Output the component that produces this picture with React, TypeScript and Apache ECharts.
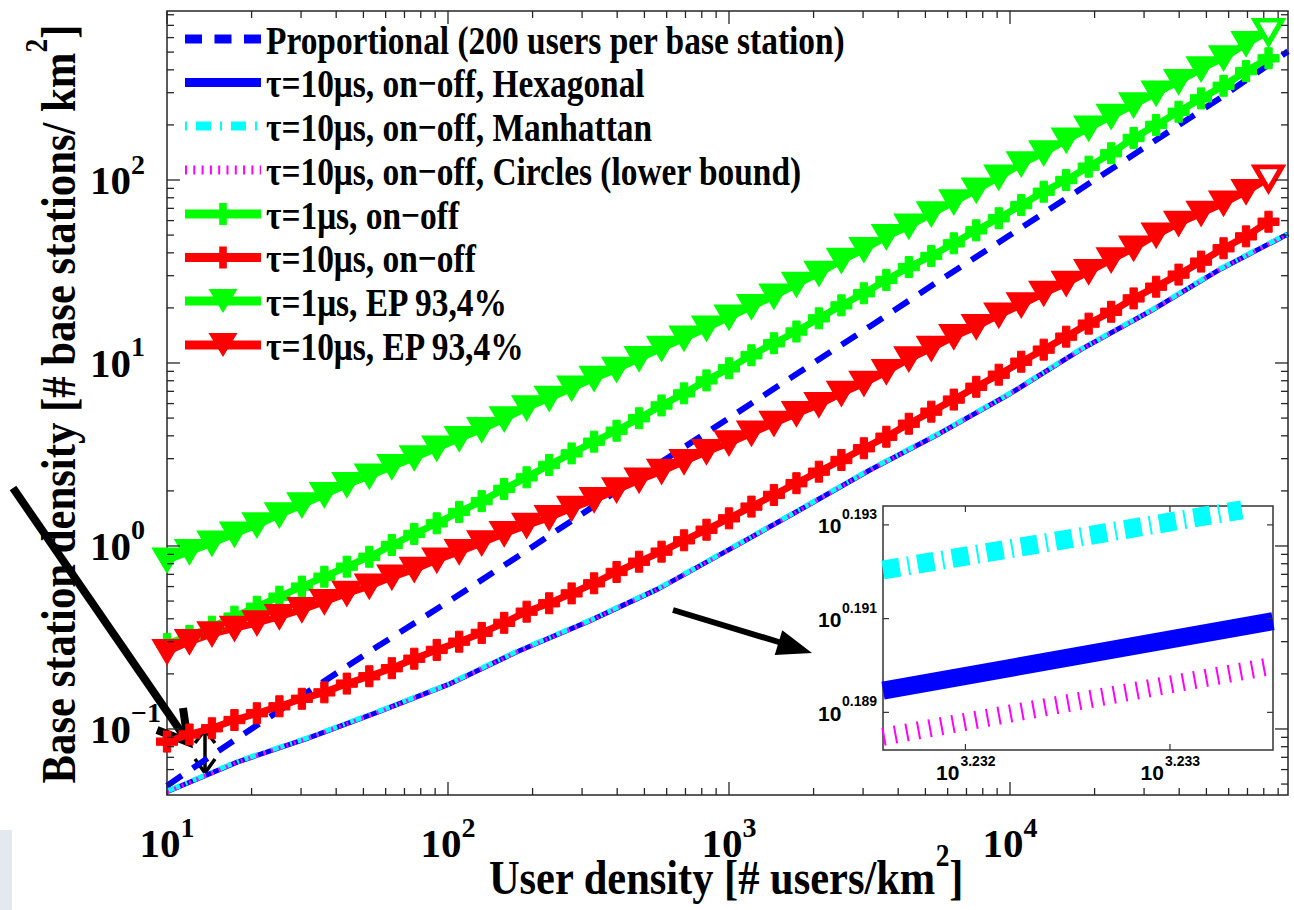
import React, { useEffect, useRef } from 'react';
import * as echarts from 'echarts';

// ---------- data ----------
// user densities (users/km^2) at which the marker curves are sampled
const USER_DENSITY = [10, 12.02, 14.45, 17.38, 20.89, 25.12, 30.2, 36.31, 43.65, 52.48, 63.1, 75.86, 91.2, 109.6, 131.8, 158.5, 190.5, 229.1, 275.4, 331.1, 398.1, 478.6, 575.4, 691.8, 831.8, 1000, 1202, 1445, 1738, 2089, 2512, 3020, 3631, 4365, 5248, 6310, 7586, 9120, 10965, 13183, 15849, 19055, 22909, 27542, 33113, 39811, 47863, 57544, 69183, 83176];

const G_ONOFF = [0.2917, 0.3221, 0.3622, 0.4111, 0.4656, 0.5284, 0.5998, 0.6792, 0.7709, 0.873, 1.012, 1.164, 1.33, 1.535, 1.758, 2.051, 2.371, 2.773, 3.206, 3.715, 4.266, 4.989, 5.861, 6.823, 8.035, 9.354, 11.02, 12.82, 14.86, 17.54, 20.65, 24.04, 28.44, 33.42, 38.46, 45.08, 53.09, 61.8, 72.95, 86.3, 100.0, 118.3, 140.0, 169.8, 200.0, 236.0, 279.3, 327.3, 393.6, 462.4];
const R_ONOFF = [0.0853, 0.0933, 0.1009, 0.1119, 0.1219, 0.133, 0.1462, 0.1585, 0.177, 0.1941, 0.2148, 0.2421, 0.2704, 0.2999, 0.335, 0.3802, 0.4375, 0.4864, 0.5508, 0.6252, 0.7211, 0.8204, 0.9311, 1.074, 1.227, 1.416, 1.641, 1.901, 2.203, 2.547, 2.951, 3.42, 3.954, 4.656, 5.42, 6.31, 7.413, 8.63, 10.16, 11.83, 13.93, 16.41, 19.05, 22.54, 26.12, 30.41, 35.81, 42.36, 49.2, 59.16];
const G_EP = [0.838, 0.931, 1.035, 1.161, 1.303, 1.479, 1.675, 1.905, 2.163, 2.41, 2.71, 3.034, 3.42, 3.864, 4.325, 4.955, 5.689, 6.412, 7.278, 8.241, 9.226, 10.57, 12.02, 13.65, 15.49, 17.78, 20.32, 23.17, 26.92, 30.9, 36.31, 41.69, 48.98, 55.98, 65.31, 75.86, 88.1, 103.5, 122.5, 140.6, 165.2, 191.9, 222.3, 257.0, 297.9, 344.4, 404.6, 464.5, 555.9, 645.7];
const R_EP = [0.2649, 0.2999, 0.3311, 0.3548, 0.3802, 0.4111, 0.4487, 0.4966, 0.5508, 0.6026, 0.6761, 0.7447, 0.8375, 0.9311, 1.04, 1.167, 1.294, 1.429, 1.607, 1.791, 2.023, 2.291, 2.559, 2.891, 3.273, 3.656, 4.13, 4.677, 5.284, 5.916, 6.823, 7.745, 8.954, 10.52, 12.02, 13.93, 15.78, 18.28, 20.75, 24.04, 27.23, 31.55, 36.56, 42.36, 50.0, 57.94, 65.77, 74.65, 86.3, 102.1];

// user densities of the plain curves
const LINE_DENSITY = [10, 17.78, 31.62, 56.23, 100, 177.8, 316.2, 562.3, 1000, 1778, 3162, 5623, 10000, 17783, 31623, 56234, 97570];
const PROPORTIONAL = [0.049, 0.089, 0.159, 0.283, 0.495, 0.88, 1.58, 2.82, 5.0, 8.9, 15.8, 28.3, 50, 89, 158, 282, 505];
const HEXAGONAL = [0.04539, 0.06592, 0.08892, 0.1236, 0.1746, 0.2661, 0.3873, 0.5848, 0.955, 1.567, 2.594, 4.121, 6.792, 11.8, 19.23, 32.66, 50.7];
const MANHATTAN = [0.04566, 0.06632, 0.08945, 0.1243, 0.1756, 0.2677, 0.3896, 0.5883, 0.9607, 1.576, 2.61, 4.146, 6.833, 11.87, 19.35, 32.86, 51.0];
const CIRCLES = [0.04525, 0.06572, 0.08865, 0.1232, 0.1741, 0.2653, 0.3861, 0.583, 0.9521, 1.562, 2.586, 4.109, 6.772, 11.76, 19.17, 32.56, 50.55];

// inset (zoom around 10^3.2325)
const INSET_X = [1704.5, 1712.0];
const INSET_HEX = [1.5469, 1.5522];
const INSET_MANHATTAN_X = [1704.5, 1711.4];
const INSET_MANHATTAN = [1.5561, 1.5607];
const INSET_CIRCLES = [1.5434, 1.5488];
const INSET_X_TICK_EXP = [3.232, 3.233];
const INSET_Y_TICK_EXP = [0.189, 0.191, 0.193];

// axis ranges and ticks
const X_RANGE = [10, 97570];
const Y_RANGE = [0.04357, 838.6];
const INSET_X_RANGE = [1704.5, 1712.0];
const INSET_Y_RANGE = [1.5424, 1.561];
const X_MAJOR = [10, 100, 1000, 10000];
const Y_MAJOR = [0.1, 1, 10, 100];

const SERIES_NAMES = [
  'Proportional (200 users per base station)',
  'τ=10μs, on−off, Hexagonal',
  'τ=10μs, on−off, Manhattan',
  'τ=10μs, on−off, Circles (lower bound)',
  'τ=1μs, on−off',
  'τ=10μs, on−off',
  'τ=1μs, EP 93,4%',
  'τ=10μs, EP 93,4%',
];

const X_TITLE = 'User density [# users/km';
const Y_TITLE = 'Base station density [# base stations/ km';

// ---------- helpers ----------
const FONT = '"Liberation Serif", "Times New Roman", serif';
const SANS = '"Liberation Sans", Arial, sans-serif';
const BLUE = '#0000ff', CYAN = '#00ffff', MAGENTA = '#ff00ff', GREEN = '#00ff00', RED = '#ff0000';
const PLUS = 'path://M6.5,0H13.5V6.5H20V13.5H13.5V20H6.5V13.5H0V6.5H6.5Z';

const minorTicks = (lo: number, hi: number, decades: number[]) => {
  const out: number[] = [];
  decades.forEach((d) => {
    for (let m = 2; m <= 9; m++) {
      const v = +(d * m).toPrecision(6);
      if (v > lo && v < hi) out.push(v);
    }
  });
  return out;
};
const X_MINOR = minorTicks(X_RANGE[0], X_RANGE[1], [10, 100, 1000, 10000]);
const Y_MINOR = minorTicks(Y_RANGE[0], Y_RANGE[1], [0.01, 0.1, 1, 10, 100]);

const pairs = (xs: number[], ys: number[]) => xs.map((x, i) => [x, ys[i]]);

const powLabel = (v: number) => {
  const e = Math.log10(v);
  const r = Math.round(e);
  if (Math.abs(e - r) > 1e-6) return '';
  return `{b|10}{s|${r < 0 ? '−' + -r : r}}`;
};
const tickRich = {
  b: { fontSize: 41, fontWeight: 'bold', fontFamily: FONT, color: '#000', lineHeight: 60 },
  s: { fontSize: 28, fontWeight: 'bold', fontFamily: FONT, color: '#000', lineHeight: 20, verticalAlign: 'top' },
};

const markerSeries = (idx: number, ys: number[], color: string, tri: boolean) => ({
  name: SERIES_NAMES[idx],
  type: 'line',
  xAxisIndex: 0,
  yAxisIndex: 0,
  data: USER_DENSITY.map((x, i) =>
    tri && i === ys.length - 1
      ? { value: [x, ys[i]], itemStyle: { color: '#ffffff', borderColor: color, borderWidth: 5 } }
      : [x, ys[i]]
  ),
  symbol: tri ? 'triangle' : PLUS,
  symbolRotate: tri ? 180 : 0,
  symbolSize: tri ? [27, 23] : 21,
  showSymbol: true,
  lineStyle: { color, width: 7 },
  itemStyle: { color, borderColor: color, borderWidth: tri ? 2.5 : 1 },
  emphasis: { disabled: true },
  silent: true,
});

const plainSeries = (idx: number, xs: number[], ys: number[], color: string, width: number, dash: any, xi = 0) => ({
  name: SERIES_NAMES[idx] + (xi ? ' (inset)' : ''),
  type: 'line',
  xAxisIndex: xi,
  yAxisIndex: xi,
  data: pairs(xs, ys),
  symbol: 'none',
  showSymbol: false,
  lineStyle: { color, width, type: dash, cap: 'butt' },
  emphasis: { disabled: true },
  silent: true,
});

const renderMainTicks = (params: any, api: any) => {
  const cs = params.coordSys;
  const kind = api.value(2);
  const p = api.coord([api.value(0), api.value(1)]);
  const len = kind === 0 || kind === 2 ? 13 : 7;
  const st = { stroke: '#262626', lineWidth: 1.3 };
  if (kind < 2) {
    const x = p[0];
    const b = cs.y + cs.height;
    return {
      type: 'group',
      children: [
        { type: 'line', shape: { x1: x, y1: b, x2: x, y2: b - len }, style: st },
        { type: 'line', shape: { x1: x, y1: cs.y, x2: x, y2: cs.y + len }, style: st },
      ],
    };
  }
  const y = p[1];
  const r = cs.x + cs.width;
  return {
    type: 'group',
    children: [
      { type: 'line', shape: { x1: cs.x, y1: y, x2: cs.x + len, y2: y }, style: st },
      { type: 'line', shape: { x1: r, y1: y, x2: r - len, y2: y }, style: st },
    ],
  };
};

const txt = (text: string, x: number, y: number, font: string, align: string, va: string) => ({
  type: 'text',
  style: { text, x, y, font, fill: '#000', align, textAlign: align, verticalAlign: va, textVerticalAlign: va },
});

const renderInsetTicks = (params: any, api: any) => {
  const cs = params.coordSys;
  const kind = api.value(2);
  const exp = api.value(3);
  const p = api.coord([api.value(0), api.value(1)]);
  const st = { stroke: '#333', lineWidth: 1.2 };
  const big = `bold 21px ${SANS}`;
  const small = `bold 14px ${SANS}`;
  if (kind === 0) {
    const x = p[0];
    const b = cs.y + cs.height;
    return {
      type: 'group',
      children: [
        { type: 'line', shape: { x1: x, y1: b, x2: x, y2: b - 6 }, style: st },
        { type: 'line', shape: { x1: x, y1: cs.y, x2: x, y2: cs.y + 6 }, style: st },
        txt('10', x - 6, b + 22, big, 'right', 'middle'),
        txt(exp.toFixed(3), x - 5, b + 11, small, 'left', 'middle'),
      ],
    };
  }
  const y = p[1];
  const r = cs.x + cs.width;
  return {
    type: 'group',
    children: [
      { type: 'line', shape: { x1: cs.x, y1: y, x2: cs.x + 6, y2: y }, style: st },
      { type: 'line', shape: { x1: r, y1: y, x2: r - 6, y2: y }, style: st },
      txt('10', cs.x - 65, y + 1, big, 'left', 'middle'),
      txt(exp.toFixed(3), cs.x - 41, y - 11, small, 'left', 'middle'),
    ],
  };
};

// ---------- legend (drawn as graphic) ----------
const LEGEND_Y = [39, 82.5, 126, 170, 214, 257.5, 301, 345];
const LEGEND_STYLE: { color: string; dash: number[] | null; marker: string | null }[] = [
  { color: BLUE, dash: [17, 12.5], marker: null },
  { color: BLUE, dash: null, marker: null },
  { color: CYAN, dash: [2, 9, 15, 9], marker: null },
  { color: MAGENTA, dash: [2, 6.3], marker: null },
  { color: GREEN, dash: null, marker: 'plus' },
  { color: RED, dash: null, marker: 'plus' },
  { color: GREEN, dash: null, marker: 'tri' },
  { color: RED, dash: null, marker: 'tri' },
];

const plusPoints = (cx: number, cy: number, h: number, a: number) => [
  [cx - a, cy - h], [cx + a, cy - h], [cx + a, cy - a], [cx + h, cy - a], [cx + h, cy + a], [cx + a, cy + a],
  [cx + a, cy + h], [cx - a, cy + h], [cx - a, cy + a], [cx - h, cy + a], [cx - h, cy - a], [cx - a, cy - a],
];

const legendElements: any[] = [];
SERIES_NAMES.forEach((name, i) => {
  const y = LEGEND_Y[i];
  const s = LEGEND_STYLE[i];
  legendElements.push({
    type: 'line',
    shape: { x1: 185, y1: y, x2: 261, y2: y },
    style: { stroke: s.color, lineWidth: 9, lineDash: s.dash || undefined, lineCap: 'butt' },
  });
  if (s.marker === 'plus') {
    legendElements.push({ type: 'polygon', shape: { points: plusPoints(223, y, 11, 3.8) }, style: { fill: s.color } });
  } else if (s.marker === 'tri') {
    legendElements.push({
      type: 'polygon',
      shape: { points: [[208.5, y - 12], [237.5, y - 12], [223, y + 12]] },
      style: { fill: s.color },
    });
  }
  legendElements.push({
    type: 'text',
    x: 266,
    y: y + 1,
    scaleX: 0.815,
    style: { text: name, font: `bold 41px ${FONT}`, fill: '#000', align: 'left', verticalAlign: 'middle' },
  });
});

const titleRich = {
  a: { fontSize: 48, fontWeight: 'bold', fontFamily: FONT, fill: '#000', color: '#000', lineHeight: 62, verticalAlign: 'bottom' },
  s: { fontSize: 31, fontWeight: 'bold', fontFamily: FONT, fill: '#000', color: '#000', lineHeight: 24, verticalAlign: 'top' },
};

const graphics: any[] = [
  { type: 'rect', shape: { x: 0, y: 830, width: 12, height: 80 }, style: { fill: '#e4e9f0' }, silent: true },
  ...legendElements,
  {
    type: 'text',
    x: 726,
    y: 871,
    scaleX: 0.885,
    style: { text: `{a|${X_TITLE}}{s|2}{a|]}`, rich: titleRich, align: 'center', verticalAlign: 'middle' },
  },
  {
    type: 'text',
    x: 52,
    y: 404,
    rotation: Math.PI / 2,
    scaleX: 0.89,
    style: { text: `{a|${Y_TITLE}}{s|2}{a|]}`, rich: titleRich, align: 'center', verticalAlign: 'middle' },
  },
  // long annotation arrow
  { type: 'line', shape: { x1: 13, y1: 488, x2: 186, y2: 739 }, style: { stroke: '#000', lineWidth: 8 } },
  {
    type: 'polyline',
    shape: { points: [[157, 730], [188, 742], [183, 708]] },
    style: { stroke: '#000', lineWidth: 8, fill: null, lineJoin: 'miter' },
  },
  // double headed arrow
  { type: 'line', shape: { x1: 205, y1: 731, x2: 205, y2: 772 }, style: { stroke: '#000', lineWidth: 3.5 } },
  { type: 'polyline', shape: { points: [[195, 743], [205, 730], [215, 743]] }, style: { stroke: '#000', lineWidth: 3.5, fill: null } },
  { type: 'polyline', shape: { points: [[195, 759], [205, 773], [215, 759]] }, style: { stroke: '#000', lineWidth: 3.5, fill: null } },
  // arrow towards the inset
  { type: 'line', shape: { x1: 673, y1: 610, x2: 782, y2: 643 }, style: { stroke: '#000', lineWidth: 6 } },
  { type: 'polygon', shape: { points: [[812, 653], [774.7, 655.1], [782.3, 630.3]] }, style: { fill: '#000' } },
];

const tickData = [
  ...X_MAJOR.map((v) => [v, 1, 0]),
  ...X_MINOR.map((v) => [v, 1, 1]),
  ...Y_MAJOR.map((v) => [100, v, 2]),
  ...Y_MINOR.map((v) => [100, v, 3]),
];
const insetTickData = [
  ...INSET_X_TICK_EXP.map((e) => [Math.pow(10, e), INSET_Y_RANGE[0], 0, e]),
  ...INSET_Y_TICK_EXP.map((e) => [INSET_X_RANGE[0], Math.pow(10, e), 1, e]),
];

const option: any = {
  animation: false,
  backgroundColor: '#ffffff',
  grid: [
    {
      left: 167, top: 11, right: 6, bottom: 115, show: true, borderColor: '#262626', borderWidth: 1.5,
      backgroundColor: '#ffffff', containLabel: false, outerBoundsMode: 'none',
    },
    {
      left: 883, top: 506, width: 390, height: 244, show: true, borderColor: '#333', borderWidth: 1.5,
      backgroundColor: '#ffffff', containLabel: false, outerBoundsMode: 'none',
    },
  ],
  xAxis: [
    {
      type: 'log', logBase: 10, gridIndex: 0, min: X_RANGE[0], max: X_RANGE[1],
      axisLine: { show: false }, axisTick: { show: false }, splitLine: { show: false }, minorTick: { show: false },
      axisLabel: { formatter: powLabel, margin: 18, rich: tickRich, color: '#000' },
    },
    {
      type: 'log', logBase: 10, gridIndex: 1, min: INSET_X_RANGE[0], max: INSET_X_RANGE[1],
      axisLine: { show: false }, axisTick: { show: false }, splitLine: { show: false }, axisLabel: { show: false },
    },
  ],
  yAxis: [
    {
      type: 'log', logBase: 10, gridIndex: 0, min: Y_RANGE[0], max: Y_RANGE[1],
      axisLine: { show: false }, axisTick: { show: false }, splitLine: { show: false }, minorTick: { show: false },
      axisLabel: { formatter: powLabel, margin: 77, align: 'left', rich: tickRich, color: '#000' },
    },
    {
      type: 'log', logBase: 10, gridIndex: 1, min: INSET_Y_RANGE[0], max: INSET_Y_RANGE[1],
      axisLine: { show: false }, axisTick: { show: false }, splitLine: { show: false }, axisLabel: { show: false },
    },
  ],
  series: [
    plainSeries(0, LINE_DENSITY, PROPORTIONAL, BLUE, 6, [18, 13]),
    plainSeries(1, LINE_DENSITY, HEXAGONAL, BLUE, 5, 'solid'),
    plainSeries(2, LINE_DENSITY, MANHATTAN, CYAN, 5, [14, 6, 2, 6]),
    plainSeries(3, LINE_DENSITY, CIRCLES, MAGENTA, 4, [2, 6]),
    markerSeries(4, G_ONOFF, GREEN, false),
    markerSeries(5, R_ONOFF, RED, false),
    markerSeries(6, G_EP, GREEN, true),
    markerSeries(7, R_EP, RED, true),
    plainSeries(1, INSET_X, INSET_HEX, BLUE, 18, 'solid', 1),
    plainSeries(2, INSET_MANHATTAN_X, INSET_MANHATTAN, CYAN, 19, [17, 8, 2, 8], 1),
    plainSeries(3, INSET_X, INSET_CIRCLES, MAGENTA, 18, [2, 9.7], 1),
    {
      name: 'main ticks', type: 'custom', xAxisIndex: 0, yAxisIndex: 0, data: tickData,
      renderItem: renderMainTicks, silent: true, clip: false, z: 5,
    },
    {
      name: 'inset ticks', type: 'custom', xAxisIndex: 1, yAxisIndex: 1, data: insetTickData,
      renderItem: renderInsetTicks, silent: true, clip: false, z: 5,
    },
  ],
  graphic: { elements: graphics },
};

export default function App() {
  const ref = useRef<HTMLDivElement>(null);
  useEffect(() => {
    const chart = echarts.init(ref.current as HTMLDivElement, undefined, { renderer: 'svg' });
    chart.setOption(option);
    return () => chart.dispose();
  }, []);
  return (
    <div
      ref={ref}
      style={{ position: 'absolute', left: 0, top: 0, width: 1294, height: 910, background: '#ffffff' }}
    />
  );
}
